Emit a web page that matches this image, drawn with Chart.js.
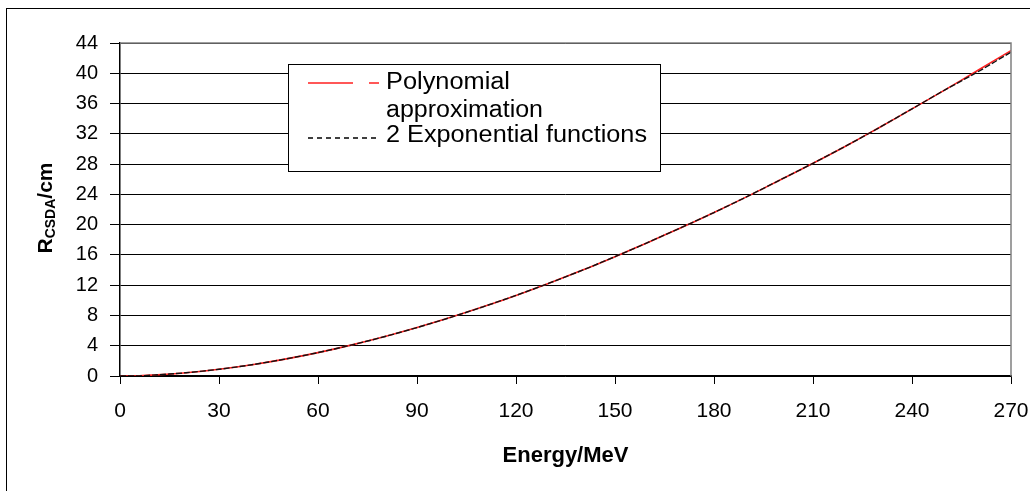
<!DOCTYPE html>
<html>
<head>
<meta charset="utf-8">
<script src="https://cdn.jsdelivr.net/npm/chart.js@4"></script>
<style>
    html, body { margin: 0; padding: 0; background: #fff; }
    #wrap { width: 1030px; height: 491px; }
</style>
</head>
<body>
<div id="wrap"><canvas id="grafico" width="1030" height="491"></canvas></div>
<script>
// --- Dados ---
const energias = [0, 5, 10, 20, 30, 40, 50, 60, 70, 80, 90, 100, 110, 120, 130, 140, 150, 160, 170, 180, 190, 200, 210, 220, 230, 240, 250, 260, 270]
const rangePolinomio = [0, 0, 0.12, 0.43, 0.89, 1.49, 2.23, 3.09, 4.08, 5.18, 6.40, 7.72, 9.14, 10.65, 12.26, 13.96, 15.77, 17.65, 19.6, 21.6, 23.7, 25.9, 28.1, 30.4, 32.8, 35.3, 37.8, 40.4, 43.0]
const rangeExponencial = [0, 0, 0.12, 0.43, 0.89, 1.49, 2.23, 3.09, 4.08, 5.18, 6.40, 7.72, 9.14, 10.65, 12.26, 13.96, 15.77, 17.65, 19.6, 21.6, 23.7, 25.9, 28.1, 30.4, 32.8, 35.3, 37.8, 40.2, 42.8]
const ticksX = [0, 30, 60, 90, 120, 150, 180, 210, 240, 270]
const ticksY = [0, 4, 8, 12, 16, 20, 24, 28, 32, 36, 40, 44]
const nomesSeries = ['Polynomial approximation', '2 Exponential functions']

const fonte = "'Liberation Sans', Arial, sans-serif"

// texto esticado na horizontal (a imagem original é mais larga)
function textoLargo(ctx, txt, x, y, largura) {
    const w = ctx.measureText(txt).width
    ctx.save()
    ctx.translate(x, y)
    ctx.scale(largura / w, 1)
    ctx.fillText(txt, 0, 0)
    ctx.restore()
}

// Moldura externa, borda do gráfico, título do eixo Y e legenda
const extras = {
    id: 'extras',
    beforeDraw(chart) {
        const ctx = chart.ctx
        ctx.save()
        ctx.fillStyle = '#fff'
        ctx.fillRect(0, 0, chart.width, chart.height)
        ctx.strokeStyle = '#000'
        ctx.lineWidth = 1
        ctx.strokeRect(6.5, 8.5, 1200, 700)
        ctx.restore()
    },
    afterDraw(chart) {
        const ctx = chart.ctx
        const a = chart.chartArea
        ctx.save()

        // borda cinza do topo e da direita
        ctx.strokeStyle = '#808080'
        ctx.lineWidth = 1.5
        ctx.beginPath()
        ctx.moveTo(a.left, a.top)
        ctx.lineTo(a.right, a.top)
        ctx.lineTo(a.right, a.bottom)
        ctx.stroke()

        // título do eixo Y com subscrito
        ctx.translate(44, 208)
        ctx.rotate(-Math.PI / 2)
        ctx.fillStyle = '#000'
        ctx.textBaseline = 'alphabetic'
        const fGrande = 'bold 21px ' + fonte
        const fPequena = 'bold 14px ' + fonte
        ctx.font = fGrande
        const wR = ctx.measureText('R').width
        const wCm = ctx.measureText('/cm').width
        ctx.font = fPequena
        const wSub = ctx.measureText('CSDA').width
        let x = -(wR + wSub + wCm) / 2
        ctx.font = fGrande
        ctx.fillText('R', x, 8)
        x += wR
        ctx.font = fPequena
        ctx.fillText('CSDA', x, 11)
        x += wSub
        ctx.font = fGrande
        ctx.fillText('/cm', x, 8)
        ctx.restore()

        // legenda
        ctx.save()
        ctx.fillStyle = '#fff'
        ctx.fillRect(288, 64, 372, 107)
        ctx.strokeStyle = '#000'
        ctx.lineWidth = 1
        ctx.strokeRect(288.5, 64.5, 372, 107)

        ctx.strokeStyle = '#ff2020'
        ctx.lineWidth = 1.5
        ctx.beginPath()
        ctx.moveTo(308, 83); ctx.lineTo(353, 83)
        ctx.moveTo(369, 83); ctx.lineTo(379, 83)
        ctx.stroke()

        ctx.strokeStyle = '#000'
        ctx.setLineDash([5, 4])
        ctx.beginPath()
        ctx.moveTo(308, 138); ctx.lineTo(380, 138)
        ctx.stroke()
        ctx.setLineDash([])

        ctx.fillStyle = '#000'
        ctx.font = '23px ' + fonte
        ctx.textBaseline = 'middle'
        textoLargo(ctx, 'Polynomial', 386, 83, 124)
        textoLargo(ctx, 'approximation', 386, 111, 157)
        textoLargo(ctx, nomesSeries[1], 386, 136, 261)
        ctx.restore()
    }
}

const ctx = document.getElementById('grafico').getContext('2d')
new Chart(ctx, {
    type: 'line',
    data: {
        datasets: [{
            label: nomesSeries[0],
            data: energias.map((e, i) => ({ x: e, y: rangePolinomio[i] })),
            borderColor: '#ff2020',
            borderWidth: 1.6,
            pointRadius: 0,
            tension: 0.3,
            order: 1
        }, {
            label: nomesSeries[1],
            data: energias.map((e, i) => ({ x: e, y: rangeExponencial[i] })),
            borderColor: '#111',
            borderWidth: 1.4,
            borderDash: [6, 2],
            pointRadius: 0,
            tension: 0.3,
            order: 0
        }]
    },
    options: {
        responsive: false,
        animation: false,
        layout: { padding: { top: 43, right: 19, left: 0, bottom: 0 } },
        plugins: { legend: { display: false }, tooltip: { enabled: false } },
        scales: {
            x: {
                type: 'linear',
                min: 0,
                max: 270,
                afterBuildTicks: s => { s.ticks = ticksX.map(v => ({ value: v })) },
                afterFit: s => { s.height = 115; s.paddingRight = 0; s.paddingLeft = 0 },
                ticks: { color: '#000', font: { family: fonte, size: 21 }, padding: 15, maxRotation: 0 },
                grid: { drawOnChartArea: false, drawTicks: true, tickLength: 8, color: '#000' },
                border: { color: '#000', width: 1.5 },
                title: {
                    display: true,
                    text: 'Energy/MeV',
                    color: '#000',
                    font: { family: fonte, size: 22, weight: 'bold' },
                    padding: { top: 0, bottom: 22 }
                }
            },
            y: {
                min: 0,
                max: 44,
                afterBuildTicks: s => { s.ticks = ticksY.map(v => ({ value: v })) },
                afterFit: s => { s.width = 120; s.paddingTop = 0; s.paddingBottom = 0 },
                ticks: { color: '#000', font: { family: fonte, size: 20 }, padding: 12 },
                grid: { color: '#000', lineWidth: 1, tickLength: 10 },
                border: { color: '#000', width: 1.5 }
            }
        }
    },
    plugins: [extras]
})
</script>
</body>
</html>
